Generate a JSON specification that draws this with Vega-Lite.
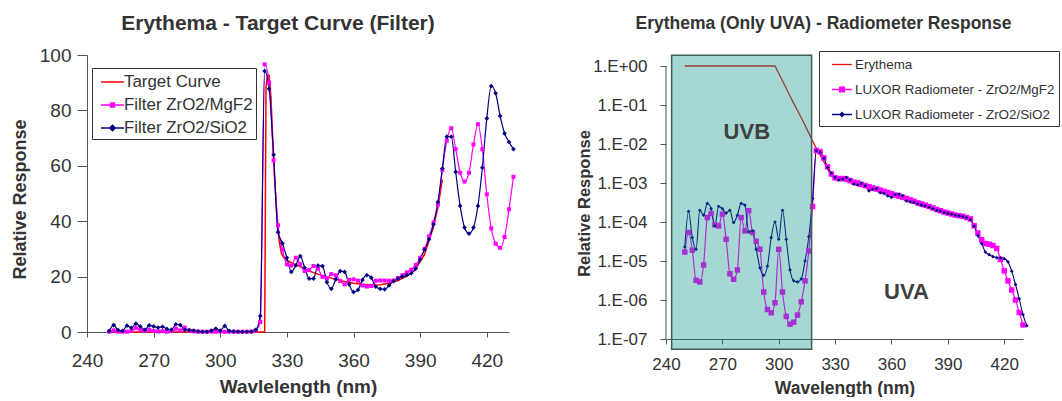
{
 "$schema": "https://vega.github.io/schema/vega-lite/v6.json",
 "padding": {"left": 11, "top": 13, "right": 0, "bottom": 0},
 "config": {
  "font": "Liberation Sans",
  "view": {"stroke": null},
  "concat": {"spacing": 60},
  "axis": {"grid": false, "domainColor": "#555555", "tickColor": "#555555", "labelColor": "#333333", "titleColor": "#333333", "labelFlush": false, "labelOverlap": false},
  "title": {"color": "#333333", "fontWeight": "bold", "anchor": "middle"},
  "legend": {"labelColor": "#333333"}
 },
 "datasets": {
  "Lt": [{"nm":250,"v":0},{"nm":318,"v":0},{"nm":320,"v":0},{"nm":320.6,"v":88},{"nm":321.2,"v":92.5},{"nm":322,"v":92.7},{"nm":322.8,"v":85},{"nm":323.5,"v":72},{"nm":324.5,"v":55},{"nm":325.5,"v":42},{"nm":326.5,"v":33},{"nm":327.5,"v":28.5},{"nm":328.5,"v":27},{"nm":330,"v":25.8},{"nm":332,"v":25},{"nm":334,"v":24.3},{"nm":336,"v":23.6},{"nm":338,"v":22.8},{"nm":340,"v":22},{"nm":344,"v":20.9},{"nm":348,"v":19.9},{"nm":352,"v":19},{"nm":356,"v":18.2},{"nm":360,"v":17.6},{"nm":364,"v":17.2},{"nm":368,"v":17},{"nm":372,"v":17.1},{"nm":376,"v":17.6},{"nm":380,"v":18.6},{"nm":384,"v":20.2},{"nm":388,"v":22.8},{"nm":392,"v":28},{"nm":396,"v":38},{"nm":398,"v":45},{"nm":400,"v":55}],
  "Lm": [{"nm":250,"v":0.1},{"nm":252,"v":0.6},{"nm":254,"v":0.1},{"nm":256,"v":0.1},{"nm":258,"v":0.1},{"nm":260,"v":0.4},{"nm":262,"v":1.4},{"nm":264,"v":0.8},{"nm":266,"v":0.3},{"nm":268,"v":0.8},{"nm":270,"v":0.4},{"nm":272,"v":0.2},{"nm":274,"v":0.3},{"nm":276,"v":0.1},{"nm":278,"v":0.3},{"nm":280,"v":1.2},{"nm":282,"v":0.6},{"nm":284,"v":1.6},{"nm":286,"v":0.4},{"nm":288,"v":0.2},{"nm":290,"v":0.1},{"nm":292,"v":0.1},{"nm":294,"v":0.1},{"nm":296,"v":0.1},{"nm":298,"v":0.1},{"nm":300,"v":0.2},{"nm":302,"v":0.1},{"nm":304,"v":0.1},{"nm":306,"v":0.1},{"nm":308,"v":0.1},{"nm":310,"v":0.1},{"nm":312,"v":0.1},{"nm":314,"v":0.2},{"nm":316,"v":0.6},{"nm":318,"v":3.6},{"nm":320,"v":96.6},{"nm":322,"v":90},{"nm":324,"v":62},{"nm":326,"v":38.5},{"nm":328,"v":29.8},{"nm":330,"v":24.4},{"nm":332,"v":24},{"nm":334,"v":26.8},{"nm":336,"v":24.5},{"nm":338,"v":22},{"nm":340,"v":22.4},{"nm":342,"v":23.8},{"nm":344,"v":22.9},{"nm":346,"v":19.9},{"nm":348,"v":19.3},{"nm":350,"v":20.9},{"nm":352,"v":20.5},{"nm":354,"v":18.4},{"nm":356,"v":17.2},{"nm":358,"v":18.8},{"nm":360,"v":19},{"nm":362,"v":18.5},{"nm":364,"v":16.8},{"nm":366,"v":16.4},{"nm":368,"v":16.6},{"nm":370,"v":18.5},{"nm":372,"v":18.6},{"nm":374,"v":18.6},{"nm":376,"v":18.5},{"nm":378,"v":18.6},{"nm":380,"v":19.5},{"nm":382,"v":20.5},{"nm":384,"v":21.5},{"nm":386,"v":22.5},{"nm":388,"v":24.2},{"nm":390,"v":26.8},{"nm":392,"v":30},{"nm":394,"v":34.5},{"nm":396,"v":39.5},{"nm":398,"v":46},{"nm":400,"v":58.5},{"nm":402,"v":69},{"nm":404,"v":73.6},{"nm":406,"v":66},{"nm":408,"v":57.5},{"nm":410,"v":54.3},{"nm":412,"v":57.5},{"nm":414,"v":67.7},{"nm":416,"v":75},{"nm":418,"v":66},{"nm":420,"v":49.7},{"nm":422,"v":37.4},{"nm":424,"v":31.9},{"nm":426,"v":30.4},{"nm":428,"v":34.3},{"nm":430,"v":44.3},{"nm":432,"v":56}],
  "Ls": [{"nm":250,"v":0.4},{"nm":252,"v":2.5},{"nm":254,"v":0.7},{"nm":256,"v":0.4},{"nm":258,"v":2.3},{"nm":260,"v":1.5},{"nm":262,"v":3},{"nm":264,"v":2},{"nm":266,"v":0.8},{"nm":268,"v":2.4},{"nm":270,"v":2},{"nm":272,"v":1.6},{"nm":274,"v":1.9},{"nm":276,"v":1.1},{"nm":278,"v":0.8},{"nm":280,"v":2.8},{"nm":282,"v":2.5},{"nm":284,"v":0.8},{"nm":286,"v":0.7},{"nm":288,"v":0.5},{"nm":290,"v":0.2},{"nm":292,"v":0.1},{"nm":294,"v":0.1},{"nm":296,"v":0.5},{"nm":298,"v":1.2},{"nm":300,"v":0.5},{"nm":302,"v":2.2},{"nm":304,"v":0.4},{"nm":306,"v":0.2},{"nm":308,"v":0.1},{"nm":310,"v":0.1},{"nm":312,"v":0.1},{"nm":314,"v":0.1},{"nm":316,"v":0.8},{"nm":318,"v":5.8},{"nm":320,"v":94.2},{"nm":322,"v":87.8},{"nm":324,"v":64},{"nm":326,"v":36},{"nm":328,"v":32},{"nm":330,"v":26.8},{"nm":332,"v":21.7},{"nm":334,"v":24},{"nm":336,"v":27.4},{"nm":338,"v":23.2},{"nm":340,"v":19.3},{"nm":342,"v":19.3},{"nm":344,"v":24},{"nm":346,"v":23.8},{"nm":348,"v":18},{"nm":350,"v":15.6},{"nm":352,"v":19},{"nm":354,"v":22},{"nm":356,"v":21.7},{"nm":358,"v":17.2},{"nm":360,"v":14.4},{"nm":362,"v":15.2},{"nm":364,"v":18.8},{"nm":366,"v":20.5},{"nm":368,"v":19.6},{"nm":370,"v":16.4},{"nm":372,"v":15.6},{"nm":374,"v":15.4},{"nm":376,"v":16.8},{"nm":378,"v":18.4},{"nm":380,"v":19.3},{"nm":382,"v":20},{"nm":384,"v":20.5},{"nm":386,"v":21.2},{"nm":388,"v":22.9},{"nm":390,"v":26.2},{"nm":392,"v":29.8},{"nm":394,"v":33.5},{"nm":396,"v":38.9},{"nm":398,"v":46.9},{"nm":400,"v":59},{"nm":402,"v":70.5},{"nm":404,"v":70.5},{"nm":406,"v":57.8},{"nm":408,"v":45.5},{"nm":410,"v":37.7},{"nm":412,"v":35.5},{"nm":414,"v":37.7},{"nm":416,"v":45.5},{"nm":418,"v":59.3},{"nm":420,"v":77.1},{"nm":422,"v":88.8},{"nm":424,"v":86.2},{"nm":426,"v":78},{"nm":428,"v":71.7},{"nm":430,"v":68.6},{"nm":432,"v":66}],
  "Rt": [{"nm":250,"r":1},{"nm":298,"r":1},{"nm":300,"r":0.65},{"nm":302,"r":0.42},{"nm":304,"r":0.27},{"nm":306,"r":0.17},{"nm":308,"r":0.11},{"nm":310,"r":0.072},{"nm":312,"r":0.047},{"nm":314,"r":0.03},{"nm":316,"r":0.019},{"nm":318,"r":0.012},{"nm":320,"r":0.0078},{"nm":322,"r":0.0052},{"nm":324,"r":0.0035},{"nm":326,"r":0.0023},{"nm":328,"r":0.0015},{"nm":330,"r":0.00136},{"nm":340,"r":0.00097},{"nm":350,"r":0.00068},{"nm":360,"r":0.00048},{"nm":370,"r":0.00034},{"nm":380,"r":0.00024},{"nm":390,"r":0.00017},{"nm":400,"r":0.00012}],
  "Rm": [{"nm":250,"r":1.7e-5},{"nm":252,"r":5.4e-5},{"nm":254,"r":1.9e-5},{"nm":256,"r":3.2e-6},{"nm":258,"r":2.9e-6},{"nm":260,"r":7.9e-6},{"nm":262,"r":1.3e-4},{"nm":264,"r":1.65e-4},{"nm":266,"r":8.5e-5},{"nm":268,"r":7.9e-5},{"nm":270,"r":1.6e-4},{"nm":272,"r":3.6e-5},{"nm":274,"r":4.7e-6},{"nm":276,"r":3.4e-6},{"nm":278,"r":5.9e-6},{"nm":280,"r":1.3e-4},{"nm":282,"r":5.9e-5},{"nm":284,"r":1.95e-4},{"nm":286,"r":5.4e-5},{"nm":288,"r":3.2e-5},{"nm":290,"r":2.0e-5},{"nm":292,"r":1.6e-6},{"nm":294,"r":5.7e-7},{"nm":296,"r":4.7e-7},{"nm":298,"r":8.5e-7},{"nm":300,"r":2.0e-5},{"nm":302,"r":1.6e-6},{"nm":304,"r":3.8e-7},{"nm":306,"r":2.4e-7},{"nm":308,"r":2.7e-7},{"nm":310,"r":4.1e-7},{"nm":312,"r":9.0e-7},{"nm":314,"r":3.1e-6},{"nm":316,"r":1.8e-5},{"nm":318,"r":2.5e-4},{"nm":320,"r":6.8e-3},{"nm":322,"r":6.3e-3},{"nm":324,"r":4.4e-3},{"nm":326,"r":2.6e-3},{"nm":328,"r":1.7e-3},{"nm":330,"r":1.35e-3},{"nm":332,"r":1.3e-3},{"nm":334,"r":1.3e-3},{"nm":336,"r":1.25e-3},{"nm":338,"r":1.15e-3},{"nm":340,"r":1.05e-3},{"nm":342,"r":1.0e-3},{"nm":344,"r":9.2e-4},{"nm":346,"r":8.6e-4},{"nm":348,"r":8.0e-4},{"nm":350,"r":7.5e-4},{"nm":352,"r":7.0e-4},{"nm":354,"r":6.6e-4},{"nm":356,"r":6.1e-4},{"nm":358,"r":5.7e-4},{"nm":360,"r":5.3e-4},{"nm":362,"r":4.9e-4},{"nm":364,"r":4.6e-4},{"nm":366,"r":4.3e-4},{"nm":368,"r":4.0e-4},{"nm":370,"r":3.7e-4},{"nm":372,"r":3.4e-4},{"nm":374,"r":3.1e-4},{"nm":376,"r":2.9e-4},{"nm":378,"r":2.7e-4},{"nm":380,"r":2.5e-4},{"nm":382,"r":2.3e-4},{"nm":384,"r":2.1e-4},{"nm":386,"r":1.95e-4},{"nm":388,"r":1.8e-4},{"nm":390,"r":1.7e-4},{"nm":392,"r":1.6e-4},{"nm":394,"r":1.5e-4},{"nm":396,"r":1.45e-4},{"nm":398,"r":1.4e-4},{"nm":400,"r":1.3e-4},{"nm":402,"r":1.2e-4},{"nm":404,"r":8.0e-5},{"nm":406,"r":5.2e-5},{"nm":408,"r":3.5e-5},{"nm":410,"r":2.8e-5},{"nm":412,"r":2.7e-5},{"nm":414,"r":2.5e-5},{"nm":416,"r":2.1e-5},{"nm":418,"r":1.1e-5},{"nm":420,"r":5.6e-6},{"nm":422,"r":3.1e-6},{"nm":424,"r":1.8e-6},{"nm":426,"r":1.0e-6},{"nm":428,"r":4.8e-7},{"nm":430,"r":2.3e-7}],
  "Rs": [{"nm":250,"r":2.3e-5},{"nm":252,"r":1.86e-4},{"nm":254,"r":4.0e-5},{"nm":256,"r":2.0e-5},{"nm":258,"r":2.0e-4},{"nm":260,"r":1.5e-4},{"nm":262,"r":3.0e-4},{"nm":264,"r":2.2e-4},{"nm":266,"r":7.9e-5},{"nm":268,"r":2.5e-4},{"nm":270,"r":2.2e-4},{"nm":272,"r":1.7e-4},{"nm":274,"r":2.0e-4},{"nm":276,"r":9.7e-5},{"nm":278,"r":1.5e-4},{"nm":280,"r":3.0e-4},{"nm":282,"r":2.7e-4},{"nm":284,"r":5.6e-5},{"nm":286,"r":5.9e-5},{"nm":288,"r":2.0e-5},{"nm":290,"r":6.7e-6},{"nm":292,"r":4.3e-6},{"nm":294,"r":7.4e-6},{"nm":296,"r":4.0e-5},{"nm":298,"r":1.0e-4},{"nm":300,"r":3.6e-5},{"nm":302,"r":2.0e-4},{"nm":304,"r":3.6e-5},{"nm":306,"r":5.9e-6},{"nm":308,"r":3.1e-6},{"nm":310,"r":2.9e-6},{"nm":312,"r":3.5e-6},{"nm":314,"r":1.0e-5},{"nm":316,"r":4.2e-5},{"nm":318,"r":4.0e-4},{"nm":320,"r":6.8e-3},{"nm":322,"r":6.1e-3},{"nm":324,"r":4.3e-3},{"nm":326,"r":2.5e-3},{"nm":328,"r":1.8e-3},{"nm":330,"r":1.4e-3},{"nm":332,"r":1.2e-3},{"nm":334,"r":1.26e-3},{"nm":336,"r":1.4e-3},{"nm":338,"r":1.2e-3},{"nm":340,"r":9.4e-4},{"nm":342,"r":8.9e-4},{"nm":344,"r":9.8e-4},{"nm":346,"r":8.5e-4},{"nm":348,"r":6.3e-4},{"nm":350,"r":6.9e-4},{"nm":352,"r":7.2e-4},{"nm":354,"r":5.7e-4},{"nm":356,"r":5.4e-4},{"nm":358,"r":4.7e-4},{"nm":360,"r":4.3e-4},{"nm":362,"r":5.0e-4},{"nm":364,"r":5.2e-4},{"nm":366,"r":4.7e-4},{"nm":368,"r":3.5e-4},{"nm":370,"r":3.3e-4},{"nm":372,"r":3.2e-4},{"nm":374,"r":2.9e-4},{"nm":376,"r":2.7e-4},{"nm":378,"r":2.6e-4},{"nm":380,"r":2.4e-4},{"nm":382,"r":2.2e-4},{"nm":384,"r":2.0e-4},{"nm":386,"r":1.9e-4},{"nm":388,"r":1.75e-4},{"nm":390,"r":1.66e-4},{"nm":392,"r":1.6e-4},{"nm":394,"r":1.5e-4},{"nm":396,"r":1.44e-4},{"nm":398,"r":1.38e-4},{"nm":400,"r":1.3e-4},{"nm":402,"r":1.15e-4},{"nm":404,"r":7.8e-5},{"nm":406,"r":4.5e-5},{"nm":408,"r":2.8e-5},{"nm":410,"r":1.7e-5},{"nm":412,"r":1.45e-5},{"nm":414,"r":1.3e-5},{"nm":416,"r":1.22e-5},{"nm":418,"r":1.2e-5},{"nm":420,"r":1.15e-5},{"nm":422,"r":9.5e-6},{"nm":424,"r":5.5e-6},{"nm":426,"r":2.5e-6},{"nm":428,"r":1.07e-6},{"nm":430,"r":4.2e-7},{"nm":432,"r":2.2e-7}]
 },
 "resolve": {"scale": {"color": "independent", "x": "independent", "y": "independent"}, "legend": {"color": "independent"}},
 "hconcat": [
  {
   "width": 422, "height": 277,
   "title": {"text": "Erythema - Target Curve (Filter)", "fontSize": 21, "dx": -20, "offset": 12},
   "layer": [
    {"data": {"name": "Lt"}, "mark": {"type": "line", "strokeWidth": 1.5},
     "encoding": {
      "x": {"field": "nm", "type": "quantitative", "scale": {"domain": [240, 430], "nice": false, "zero": false},
            "axis": {"values": [240,255,270,285,300,315,330,345,360,375,390,405,420], "labelExpr": "datum.value % 30 === 0 ? datum.label : ''", "labelFontSize": 19, "tickSize": 5, "labelPadding": 14, "title": "Wavlelength (nm)", "titleFontSize": 19, "titleFontWeight": "bold", "titlePadding": 7}},
      "y": {"field": "v", "type": "quantitative", "scale": {"domain": [0, 100], "nice": false},
            "axis": {"values": [0,10,20,30,40,50,60,70,80,90,100], "labelExpr": "datum.value % 20 === 0 ? datum.label : ''", "labelFontSize": 19, "tickSize": {"condition": {"test": "datum.value % 20 === 0", "value": 10}, "value": 6}, "labelPadding": 6, "title": "Relative Response", "titleFontSize": 18, "titleFontWeight": "bold", "titleX": -67, "titleY": 144, "titleAngle": -90, "titleBaseline": "middle", "titleAlign": "center"}},
      "color": {"datum": "Target Curve", "type": "nominal",
        "scale": {"domain": ["Target Curve", "Filter ZrO2/MgF2", "Filter ZrO2/SiO2"], "range": ["#ff0000", "#ff00ff", "#000080"]},
        "legend": {"orient": "none", "legendX": 5, "legendY": 13, "title": null, "strokeColor": "#333333", "fillColor": "white", "padding": 3, "labelFontSize": 16.9, "labelLimit": 300, "symbolSize": 400, "rowPadding": 4, "labelOffset": 7, "symbolStrokeWidth": 1.5,
          "encode": {"symbols": {"update": {
            "shape": {"signal": "datum.label === 'Target Curve' ? 'M-0.5,0H1.8' : datum.label === 'Filter ZrO2/MgF2' ? 'M-0.5,0H1.8M0.45,-0.2H0.85V0.2H0.45Z' : 'M-0.5,0H1.8M0.65,-0.27L0.92,0L0.65,0.27L0.38,0Z'"},
            "fill": {"signal": "datum.label === 'Target Curve' ? 'transparent' : datum.label === 'Filter ZrO2/MgF2' ? '#ff00ff' : '#000080'"},
            "stroke": {"signal": "datum.label === 'Target Curve' ? '#ff0000' : datum.label === 'Filter ZrO2/MgF2' ? '#ff00ff' : '#000080'"},
            "strokeWidth": {"value": 1.5}, "opacity": {"value": 1}}}}}}
     }},
    {"data": {"name": "Lm"}, "mark": {"type": "line", "strokeWidth": 1.2, "interpolate": "monotone"},
     "encoding": {"x": {"field": "nm", "type": "quantitative"}, "y": {"field": "v", "type": "quantitative"}, "color": {"datum": "Filter ZrO2/MgF2", "type": "nominal"}}},
    {"data": {"name": "Ls"}, "mark": {"type": "line", "strokeWidth": 1.2, "interpolate": "monotone"},
     "encoding": {"x": {"field": "nm", "type": "quantitative"}, "y": {"field": "v", "type": "quantitative"}, "color": {"datum": "Filter ZrO2/SiO2", "type": "nominal"}}},
    {"data": {"name": "Lm"}, "mark": {"type": "point", "shape": "square", "filled": true, "size": 16, "color": "#ff00ff", "opacity": 1},
     "encoding": {"x": {"field": "nm", "type": "quantitative"}, "y": {"field": "v", "type": "quantitative"}}},
    {"data": {"name": "Ls"}, "mark": {"type": "point", "shape": "diamond", "filled": true, "size": 22, "color": "#000080", "opacity": 1},
     "encoding": {"x": {"field": "nm", "type": "quantitative"}, "y": {"field": "v", "type": "quantitative"}}}
   ]
  },
  {
   "width": 357, "height": 284,
   "title": {"text": "Erythema (Only UVA) - Radiometer Response", "fontSize": 17.5, "dx": -21, "offset": 18},
   "layer": [
    {"data": {"name": "Rt"}, "mark": {"type": "line", "strokeWidth": 1.3},
     "encoding": {
      "x": {"field": "nm", "type": "quantitative", "scale": {"domain": [240, 430], "nice": false, "zero": false},
            "axis": {"values": [240,255,270,285,300,315,330,345,360,375,390,405,420], "labelExpr": "datum.value % 30 === 0 ? datum.label : ''", "labelFontSize": 17, "tickSize": 5, "labelPadding": 12.5, "title": "Wavelength (nm)", "titleFontSize": 17.5, "titleFontWeight": "bold", "titlePadding": 7}},
      "y": {"field": "r", "type": "quantitative", "scale": {"type": "log", "domain": [1e-7, 1.915], "nice": false},
            "axis": {"domain": false, "values": [1e-7,1e-6,1e-5,1e-4,1e-3,1e-2,1e-1,1], "labelExpr": "'1.E' + (datum.value >= 0.99 ? '+00' : '-0' + round(-log(datum.value)/LN10))", "labelFontSize": 17, "tickSize": 6, "labelPadding": 13, "title": "Relative Response", "titleFontSize": 16.5, "titleFontWeight": "bold", "titleX": -82, "titleY": 148, "titleAngle": -90, "titleBaseline": "middle", "titleAlign": "center"}},
      "color": {"datum": "Erythema", "type": "nominal",
        "scale": {"domain": ["Erythema", "LUXOR Radiometer - ZrO2/MgF2", "LUXOR Radiometer - ZrO2/SiO2"], "range": ["#e8141b", "#ff00ff", "#000080"]},
        "legend": {"orient": "none", "legendX": 153, "legendY": -4, "title": null, "strokeColor": "#333333", "fillColor": "white", "padding": 4.5, "labelFontSize": 13.4, "labelLimit": 400, "symbolSize": 256, "rowPadding": 9, "labelOffset": 13.5, "symbolStrokeWidth": 1.3,
          "encode": {"symbols": {"update": {
            "shape": {"signal": "datum.label === 'Erythema' ? 'M-0.06,0H2.44' : datum.label === 'LUXOR Radiometer - ZrO2/MgF2' ? 'M-0.06,0H2.44M0.89,-0.3H1.49V0.3H0.89Z' : 'M-0.06,0H2.44M1.19,-0.25L1.44,0L1.19,0.25L0.94,0Z'"},
            "fill": {"signal": "datum.label === 'Erythema' ? 'transparent' : datum.label === 'LUXOR Radiometer - ZrO2/MgF2' ? '#ff00ff' : '#000080'"},
            "stroke": {"signal": "datum.label === 'Erythema' ? '#e8141b' : datum.label === 'LUXOR Radiometer - ZrO2/MgF2' ? '#ff00ff' : '#000080'"},
            "strokeWidth": {"value": 1.3}, "opacity": {"value": 1}}}}}}
     }},
    {"data": {"name": "Rm"}, "mark": {"type": "line", "strokeWidth": 1.2, "interpolate": "monotone"},
     "encoding": {"x": {"field": "nm", "type": "quantitative"}, "y": {"field": "r", "type": "quantitative"}, "color": {"datum": "LUXOR Radiometer - ZrO2/MgF2", "type": "nominal"}}},
    {"data": {"name": "Rs"}, "mark": {"type": "line", "strokeWidth": 1.1, "interpolate": "monotone"},
     "encoding": {"x": {"field": "nm", "type": "quantitative"}, "y": {"field": "r", "type": "quantitative"}, "color": {"datum": "LUXOR Radiometer - ZrO2/SiO2", "type": "nominal"}}},
    {"data": {"name": "Rm"}, "mark": {"type": "point", "shape": "square", "filled": true, "size": 30, "color": "#ff00ff", "opacity": 1},
     "encoding": {"x": {"field": "nm", "type": "quantitative"}, "y": {"field": "r", "type": "quantitative"}}},
    {"data": {"name": "Rs"}, "mark": {"type": "point", "shape": "diamond", "filled": true, "size": 14, "color": "#000080", "opacity": 1},
     "encoding": {"x": {"field": "nm", "type": "quantitative"}, "y": {"field": "r", "type": "quantitative"}}},
    {"data": {"values": [{"x1": 243, "x2": 317.5, "y1": 5.5e-8, "y2": 1.9}]},
     "mark": {"type": "rect", "fill": "#008c81", "fillOpacity": 0.35, "stroke": "#3d5c5a", "strokeWidth": 1.5},
     "encoding": {"x": {"field": "x1", "type": "quantitative"}, "x2": {"field": "x2"}, "y": {"field": "y1", "type": "quantitative"}, "y2": {"field": "y2"}}},
    {"data": {"values": [{"nm": 240, "lo": 1e-7, "hi": 1}]},
     "mark": {"type": "rule", "color": "#555555", "strokeWidth": 1},
     "encoding": {"x": {"field": "nm", "type": "quantitative"}, "y": {"field": "lo", "type": "quantitative"}, "y2": {"field": "hi"}}},
    {"data": {"values": [{"nm": 283, "r": 0.0204, "t": "UVB"}, {"nm": 368, "r": 1.6e-6, "t": "UVA"}]},
     "mark": {"type": "text", "fontSize": 22, "fontWeight": "bold", "color": "#404040", "align": "center", "baseline": "middle"},
     "encoding": {"x": {"field": "nm", "type": "quantitative"}, "y": {"field": "r", "type": "quantitative"}, "text": {"field": "t"}}}
   ]
  }
 ]
}
